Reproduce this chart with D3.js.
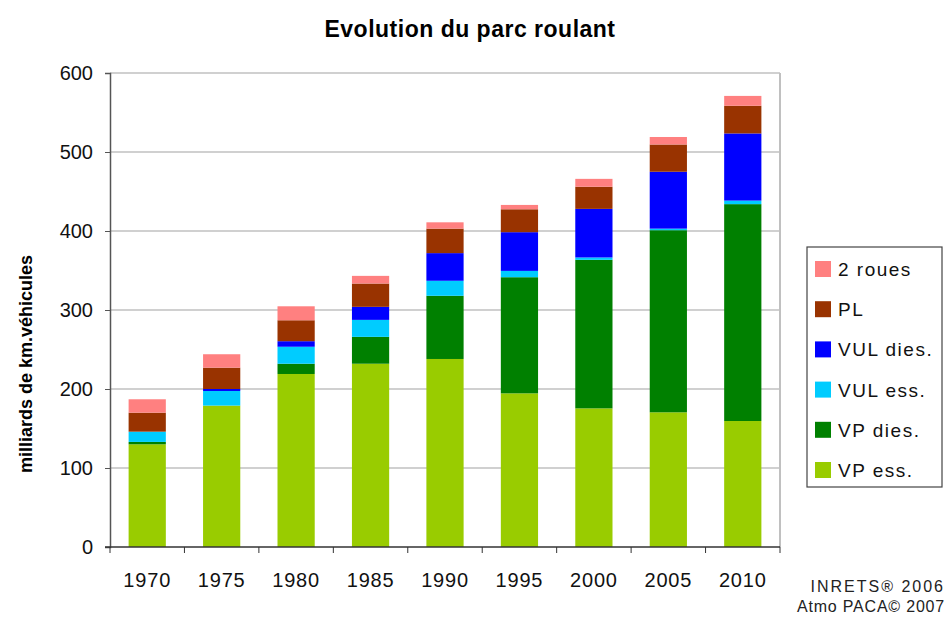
<!DOCTYPE html>
<html>
<head>
<meta charset="utf-8">
<script src="https://cdn.jsdelivr.net/npm/d3@7"></script>
<style>
  body { margin: 0; background: #fff; }
  text { font-family: "Liberation Sans", Arial, sans-serif; }
</style>
</head>
<body>
<div id="chart"></div>
<script>
const width = 948, height = 617;
const margin = {top: 73, right: 168, bottom: 70, left: 110};

// données (milliards de km.véhicules)
const years = ['1970', '1975', '1980', '1985', '1990', '1995', '2000', '2005', '2010'];
const vpEss    = [130, 179, 219, 232, 238, 194.5, 175.5, 170.5, 159.5];
const vpDies   = [3, 0, 13, 34, 80, 147, 188, 230.5, 274.5];
const vulEss   = [13, 18.5, 21.5, 21.5, 19, 8, 3, 2, 4.5];
const vulDies  = [0, 2.5, 7, 16.5, 35, 49, 61.5, 72, 85];
const pl       = [24, 27, 26.5, 29.5, 31, 29, 28, 34.5, 35];
const deuxRoues = [17, 17, 17.7, 9.7, 8, 5.5, 10, 9.5, 12.5];
const yTicks = [0, 100, 200, 300, 400, 500, 600];

const series = [
  {key: 'VP ess.', values: vpEss, color: '#99cc00'},
  {key: 'VP dies.', values: vpDies, color: '#008000'},
  {key: 'VUL ess.', values: vulEss, color: '#00ccff'},
  {key: 'VUL dies.', values: vulDies, color: '#0000ff'},
  {key: 'PL', values: pl, color: '#993300'},
  {key: '2 roues', values: deuxRoues, color: '#ff8080'}
];

const table = years.map((y, i) => {
  const row = {year: y};
  series.forEach(s => row[s.key] = s.values[i]);
  return row;
});

const stack = d3.stack().keys(series.map(s => s.key))(table);

const svg = d3.select('#chart').append('svg')
    .attr('width', width).attr('height', height);

const x = d3.scaleBand()
    .domain(years)
    .range([margin.left, width - margin.right])
    .paddingInner(0.5)
    .paddingOuter(0.25);

const y = d3.scaleLinear()
    .domain([0, 600])
    .range([height - margin.bottom, margin.top]);

// grille
svg.append('g')
  .selectAll('line')
  .data(yTicks.slice(1))
  .enter().append('line')
    .attr('x1', margin.left).attr('x2', width - margin.right)
    .attr('y1', d => y(d)).attr('y2', d => y(d))
    .attr('stroke', '#c0c0c0').attr('stroke-width', 1.5);

// bord droit de la zone de tracé
svg.append('line')
    .attr('x1', width - margin.right).attr('x2', width - margin.right)
    .attr('y1', margin.top).attr('y2', y(0))
    .attr('stroke', '#c0c0c0').attr('stroke-width', 2);

// barres
svg.append('g')
  .selectAll('g')
  .data(stack)
  .enter().append('g')
    .attr('fill', (d, i) => series[i].color)
  .selectAll('rect')
  .data(d => d)
  .enter().append('rect')
    .attr('x', d => x(d.data.year))
    .attr('width', x.bandwidth())
    .attr('y', d => y(d[1]))
    .attr('height', d => y(d[0]) - y(d[1]));

// axe Y
const yAxis = svg.append('g')
    .attr('transform', 'translate(' + margin.left + ',0)')
    .call(d3.axisLeft(y).tickValues(yTicks).tickSize(5).tickPadding(12));
yAxis.select('.domain').attr('stroke', '#555').attr('stroke-width', 1.5);
yAxis.selectAll('.tick line').attr('stroke', '#555');
yAxis.selectAll('text').style('font-size', '20px').attr('fill', '#111')
    .style('font-family', '"Liberation Sans", Arial, sans-serif');

// axe X
const xAxis = svg.append('g')
    .attr('transform', 'translate(0,' + y(0) + ')');
xAxis.append('line')
    .attr('x1', margin.left - 5).attr('x2', width - margin.right)
    .attr('stroke', '#333').attr('stroke-width', 1.5);
xAxis.selectAll('.sep')
  .data(years)
  .enter().append('line')
    .attr('class', 'sep')
    .attr('x1', d => x(d) + x.bandwidth() / 2 + x.step() / 2)
    .attr('x2', d => x(d) + x.bandwidth() / 2 + x.step() / 2)
    .attr('y1', 0).attr('y2', 6)
    .attr('stroke', '#333');
xAxis.append('line')
    .attr('x1', margin.left).attr('x2', margin.left)
    .attr('y1', 0).attr('y2', 6).attr('stroke', '#333');
xAxis.selectAll('.lbl')
  .data(years)
  .enter().append('text')
    .attr('class', 'lbl')
    .attr('x', d => x(d) + x.bandwidth() / 2)
    .attr('y', 40)
    .attr('text-anchor', 'middle')
    .style('font-size', '20px')
    .style('letter-spacing', '0.8px')
    .attr('fill', '#111')
    .text(d => d);

// titres
svg.append('text')
    .attr('x', 470).attr('y', 37)
    .attr('text-anchor', 'middle')
    .style('font-size', '23px').style('font-weight', 'bold')
    .style('letter-spacing', '0.5px')
    .text('Evolution du parc roulant');

svg.append('text')
    .attr('transform', 'translate(32,364) rotate(-90)')
    .attr('text-anchor', 'middle')
    .style('font-size', '18px').style('font-weight', 'bold')
    .text('milliards de km.véhicules');

// légende
const legend = svg.append('g').attr('transform', 'translate(807,247)');
legend.append('rect')
    .attr('width', 135).attr('height', 240)
    .attr('fill', '#fff').attr('stroke', '#444').attr('stroke-width', 1.2);
const items = legend.selectAll('.item')
  .data(series.slice().reverse())
  .enter().append('g')
    .attr('class', 'item')
    .attr('transform', (d, i) => 'translate(8,' + (22 + i * 40.2) + ')');
items.append('rect')
    .attr('y', -8).attr('width', 16).attr('height', 16)
    .attr('fill', d => d.color);
items.append('text')
    .attr('x', 23).attr('y', 7)
    .style('font-size', '19px')
    .style('letter-spacing', '1.5px')
    .attr('fill', '#111')
    .text(d => d.key);

// sources
svg.append('text')
    .attr('x', 945).attr('y', 592)
    .attr('text-anchor', 'end')
    .style('font-size', '16px').attr('fill', '#222')
    .style('letter-spacing', '2px')
    .text('INRETS® 2006');
svg.append('text')
    .attr('x', 945).attr('y', 612)
    .attr('text-anchor', 'end')
    .style('font-size', '16px').attr('fill', '#222')
    .style('letter-spacing', '0.8px')
    .text('Atmo PACA© 2007');
</script>
</body>
</html>
